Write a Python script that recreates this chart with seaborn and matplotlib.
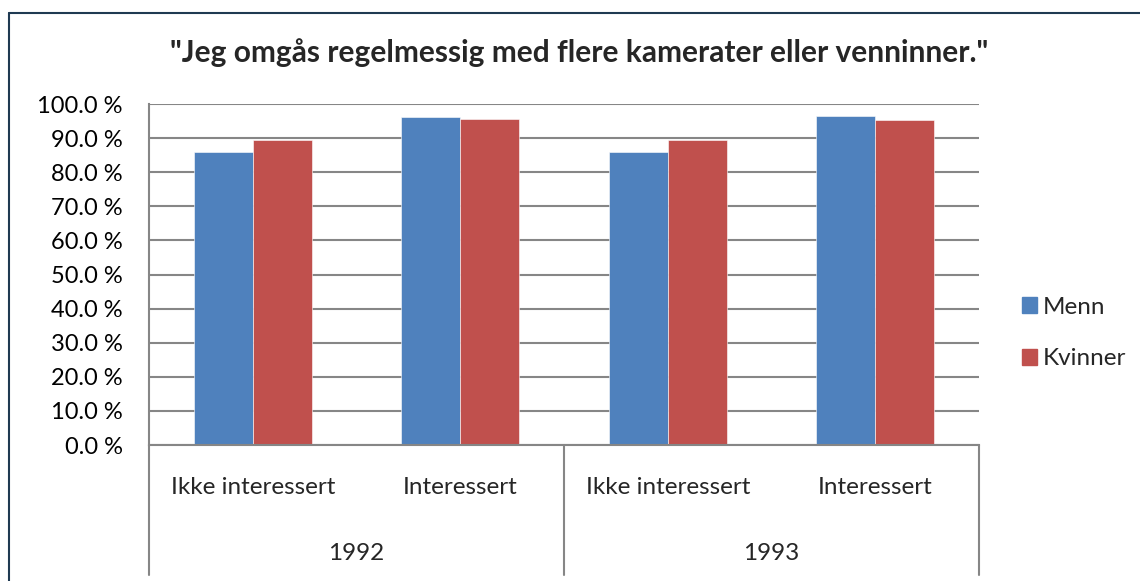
import matplotlib
matplotlib.use("Agg")
import matplotlib.pyplot as plt
from matplotlib.lines import Line2D
from matplotlib.ticker import FuncFormatter
import pandas as pd
import seaborn as sns

years = ["1992", "1993"]
groups = ["Ikke interessert", "Interessert"]
series = ["Menn", "Kvinner"]
menn = [85.9, 96.3, 85.8, 96.5]
kvinner = [89.4, 95.6, 89.3, 95.2]
colors = ["#4F81BD", "#C0504D"]

cats = [f"{y} {g}" for y in years for g in groups]
df = pd.DataFrame({
    "kat": cats * 2,
    "verdi": menn + kvinner,
    "kjonn": ["Menn"] * 4 + ["Kvinner"] * 4,
})

sns.set_theme(style="white")
plt.rcParams["font.family"] = ["Lato", "DejaVu Sans"]

W, H = 1140, 581
fig = plt.figure(figsize=(W / 100, H / 100), dpi=100)
ax = fig.add_axes([149 / W, 1 - 445 / H, (979 - 149) / W, (445 - 104) / H])

sns.barplot(data=df, x="kat", y="verdi", hue="kjonn", order=cats,
            hue_order=series, palette=colors, saturation=1, width=0.57,
            edgecolor="white", linewidth=0.4, ax=ax, legend=False)

ax.set_xlim(-0.5, 3.5)
ax.set_ylim(0, 100)
ax.set_yticks(range(0, 101, 10))
ax.yaxis.set_major_formatter(FuncFormatter(lambda v, p: f"{v:.1f} %"))
ax.grid(axis="y", color="#868686", linewidth=1.5)
ax.set_axisbelow(True)
ax.tick_params(axis="y", length=0, pad=19, labelsize=17, labelcolor="black")
ax.set_xticks([])
ax.set_xlabel("")
ax.set_ylabel("")
for s in ["top", "right"]:
    ax.spines[s].set_visible(False)
for s in ["left", "bottom"]:
    ax.spines[s].set_color("#868686")
    ax.spines[s].set_linewidth(1.5)

# category axis below the plot
trans = ax.get_xaxis_transform()
axh = 445 - 104
for xs in [-0.5, 1.5, 3.5]:
    ax.add_line(Line2D([xs, xs], [0, -(575 - 445) / axh], transform=trans,
                       color="#868686", lw=1.5, clip_on=False))
for i, c in enumerate(cats):
    ax.text(i, -(488 - 445) / axh, groups[i % 2], transform=trans,
            ha="center", va="center", fontsize=17.5)
for j, y in enumerate(years):
    ax.text(2 * j + 0.5, -(553 - 445) / axh, y, transform=trans,
            ha="center", va="center", fontsize=17.5)

fig.text(579 / W, 1 - 53 / H,
         '"Jeg omgås regelmessig med flere kamerater eller venninner."',
         fontsize=21.5, fontweight="bold", ha="center", va="center")

handles = [plt.Rectangle((0, 0), 1, 1, color=c) for c in colors]
fig.legend(handles, series, loc="center left",
           bbox_to_anchor=(1012 / W, 1 - 333 / H), frameon=False,
           fontsize=17.5, handlelength=0.62, handleheight=0.62,
           handletextpad=0.25, labelspacing=1.25, borderaxespad=0)

# outer chart border (left and top)
fig.add_artist(Line2D([8.5 / W, 8.5 / W], [0, 1 - 12.5 / H],
                      transform=fig.transFigure, color="#1F3A52", lw=1.5))
fig.add_artist(Line2D([8.5 / W, 1], [1 - 12.5 / H, 1 - 12.5 / H],
                      transform=fig.transFigure, color="#1F3A52", lw=1.5))

fig.savefig("out.png", dpi=100)
